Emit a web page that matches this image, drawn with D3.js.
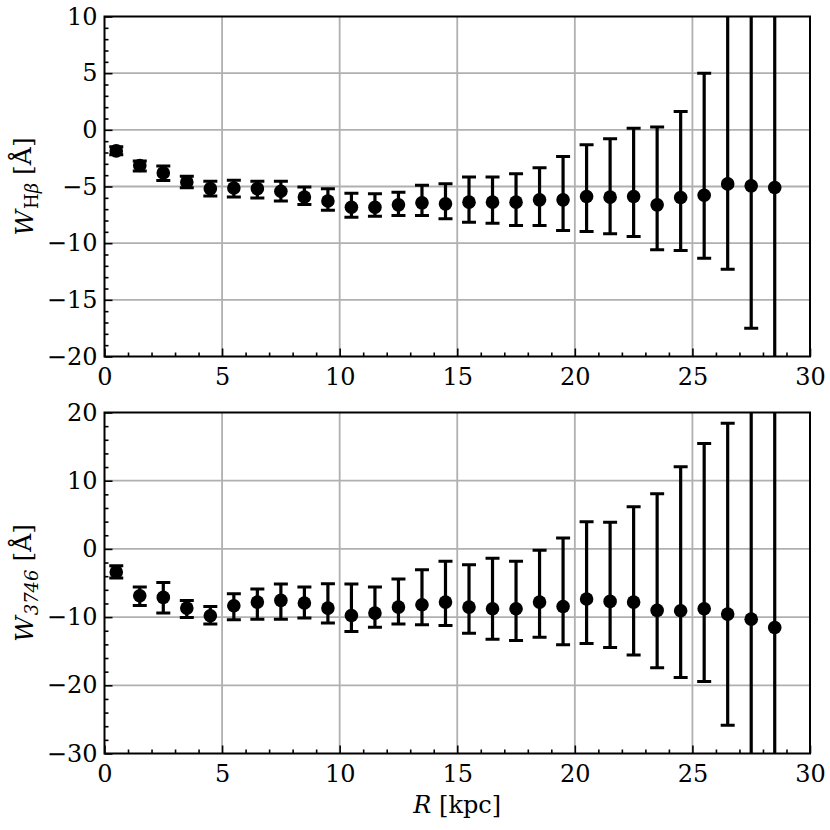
<!DOCTYPE html>
<html>
<head>
<meta charset="utf-8">
<script src="https://cdn.jsdelivr.net/npm/d3@7"></script>
<style>
  body { margin: 0; background: #fff; }
</style>
</head>
<body>
<svg id="chart" width="830" height="830"></svg>
<script>
// radius bins [kpc]
var radius = [0.5, 1.5, 2.5, 3.5, 4.5, 5.5, 6.5, 7.5, 8.5, 9.5, 10.5, 11.5, 12.5, 13.5, 14.5,
  15.5, 16.5, 17.5, 18.5, 19.5, 20.5, 21.5, 22.5, 23.5, 24.5, 25.5, 26.5, 27.5, 28.5];

// W_Hbeta [A]: value, upper and lower end of the error bar
var hbValue = [-1.86, -3.15, -3.8, -4.6, -5.19, -5.13, -5.19, -5.42, -5.93, -6.28, -6.83, -6.83, -6.62, -6.44, -6.53,
  -6.38, -6.38, -6.38, -6.18, -6.18, -5.88, -5.94, -5.88, -6.62, -5.97, -5.77, -4.77, -4.94, -5.09];
var hbUpper = [-1.5, -2.74, -3.19, -4.1, -4.54, -4.45, -4.54, -4.54, -5.04, -5.19, -5.59, -5.65, -5.5, -4.89, -4.76,
  -4.17, -4.17, -3.88, -3.35, -2.35, -1.32, -0.79, 0.15, 0.24, 1.62, 5.0, 13, 12, 16];
var hbLower = [-2.2, -3.63, -4.48, -5.1, -5.84, -5.93, -6.02, -6.28, -6.58, -7.1, -7.71, -7.62, -7.56, -7.56, -7.85,
  -8.15, -8.24, -8.44, -8.44, -8.88, -8.97, -9.18, -9.41, -10.59, -10.65, -11.33, -12.3, -17.5, -26];

// W_3746 [A]
var w37Value = [-3.39, -6.87, -7.11, -8.68, -9.81, -8.34, -7.8, -7.55, -7.94, -8.68, -9.76, -9.41, -8.53, -8.19, -7.8,
  -8.53, -8.78, -8.78, -7.8, -8.44, -7.35, -7.7, -7.8, -9.02, -9.07, -8.78, -9.56, -10.3, -11.52];
var w37Upper = [-2.46, -5.59, -4.91, -7.55, -8.43, -6.57, -5.88, -5.15, -5.59, -5.12, -5.15, -5.59, -4.41, -3.04, -1.82,
  -2.31, -1.38, -1.82, -0.2, 1.61, 3.97, 3.92, 6.17, 8.08, 12.06, 15.44, 18.43, 25, 30];
var w37Lower = [-4.27, -8.29, -9.41, -10.05, -11.03, -10.4, -10.3, -10.3, -10.15, -10.85, -12.11, -11.47, -11.03, -11.13, -11.23,
  -12.35, -13.24, -13.44, -12.94, -14.07, -13.88, -14.47, -15.55, -17.41, -18.87, -19.46, -25.84, -35, -40];

var xTicks = [0, 5, 10, 15, 20, 25, 30];
var hbTicks = [-20, -15, -10, -5, 0, 5, 10];
var w37Ticks = [-30, -20, -10, 0, 10, 20];
var minorHb = [-19, -18, -17, -16, -14, -13, -12, -11, -9, -8, -7, -6, -4, -3, -2, -1, 1, 2, 3, 4, 6, 7, 8, 9];
var minorW37 = [-28, -26, -24, -22, -18, -16, -14, -12, -8, -6, -4, -2, 2, 4, 6, 8, 12, 14, 16, 18];

var PLOT_LEFT = 104.5;
var PLOT_RIGHT = 810;
var MAJOR_TICK = 8;
var MINOR_TICK = 4;
var FONT_SIZE = 24;
var FONT = "DejaVu Serif";

var svg = d3.select("#chart");

var x = d3.scaleLinear().domain([0, 30]).range([PLOT_LEFT, PLOT_RIGHT]);

function fmt(d) {
  return d < 0 ? "\u2212" + Math.abs(d) : String(d);
}

function drawPanel(opts) {
  var y = d3.scaleLinear().domain(opts.domain).range([opts.bottom, opts.top]);
  var g = svg.append("g");
  var w = PLOT_RIGHT - PLOT_LEFT;
  var h = opts.bottom - opts.top;

  g.append("clipPath").attr("id", opts.id + "-clip")
    .append("rect")
    .attr("x", PLOT_LEFT).attr("y", opts.top)
    .attr("width", w).attr("height", h);

  // grid
  g.append("g").selectAll("line.gx").data(xTicks.slice(1, -1)).enter().append("line")
    .attr("x1", function (d) { return x(d); })
    .attr("x2", function (d) { return x(d); })
    .attr("y1", opts.top).attr("y2", opts.bottom)
    .style("stroke", "#b0b0b0").style("stroke-width", 1.8);
  g.append("g").selectAll("line.gy").data(opts.ticks.slice(1, -1)).enter().append("line")
    .attr("y1", function (d) { return y(d); })
    .attr("y2", function (d) { return y(d); })
    .attr("x1", PLOT_LEFT).attr("x2", PLOT_RIGHT)
    .style("stroke", "#b0b0b0").style("stroke-width", 1.8);

  // error bars and points
  var marks = g.append("g").attr("clip-path", "url(#" + opts.id + "-clip)");
  var pts = radius.map(function (r, i) {
    return { r: r, v: opts.value[i], hi: opts.upper[i], lo: opts.lower[i] };
  });
  var bars = marks.selectAll("g.bar").data(pts).enter().append("g");
  bars.append("line")
    .attr("x1", function (d) { return x(d.r); })
    .attr("x2", function (d) { return x(d.r); })
    .attr("y1", function (d) { return y(d.hi); })
    .attr("y2", function (d) { return y(d.lo); })
    .style("stroke", "black").style("stroke-width", 3.2);
  ["hi", "lo"].forEach(function (k) {
    bars.append("line")
      .attr("x1", function (d) { return x(d.r) - 7; })
      .attr("x2", function (d) { return x(d.r) + 7; })
      .attr("y1", function (d) { return y(d[k]); })
      .attr("y2", function (d) { return y(d[k]); })
      .style("stroke", "black").style("stroke-width", 3);
  });
  bars.append("circle")
    .attr("cx", function (d) { return x(d.r); })
    .attr("cy", function (d) { return y(d.v); })
    .attr("r", 6.8)
    .style("fill", "black");

  // axes, ticks pointing inward
  var xAxis = g.append("g").attr("transform", "translate(0," + opts.bottom + ")")
    .call(d3.axisBottom(x).tickValues(xTicks).tickFormat(fmt)
      .tickSizeInner(-MAJOR_TICK).tickSizeOuter(0).tickPadding(11));
  g.append("g").attr("transform", "translate(0," + opts.bottom + ")")
    .call(d3.axisBottom(x).tickValues(d3.range(1, 30).filter(function (d) { return d % 5 !== 0; }))
      .tickFormat("").tickSizeInner(-MINOR_TICK).tickSizeOuter(0));
  g.append("g").attr("transform", "translate(" + PLOT_LEFT + ",0)")
    .call(d3.axisLeft(y).tickValues(opts.ticks).tickFormat(fmt)
      .tickSizeInner(-MAJOR_TICK).tickSizeOuter(0).tickPadding(7));
  g.append("g").attr("transform", "translate(" + PLOT_LEFT + ",0)")
    .call(d3.axisLeft(y).tickValues(opts.minor)
      .tickFormat("").tickSizeInner(-MINOR_TICK).tickSizeOuter(0));

  g.selectAll(".domain").remove();
  g.selectAll("g").attr("font-family", null);
  g.selectAll(".tick line").style("stroke", "black").style("stroke-width", 1.6);
  g.selectAll(".tick text")
    .style("font-family", FONT)
    .style("font-size", FONT_SIZE + "px")
    .style("fill", "black");
  xAxis.selectAll(".tick text").attr("dy", "0.72em");

  // frame
  g.append("rect")
    .attr("x", PLOT_LEFT).attr("y", opts.top)
    .attr("width", w).attr("height", h)
    .style("fill", "none").style("stroke", "black").style("stroke-width", 2);

  // y label
  var lab = g.append("text")
    .attr("transform", "translate(33," + (opts.top + h / 2) + ") rotate(-90)")
    .attr("text-anchor", "middle")
    .style("font-family", FONT)
    .style("font-size", "25px");
  lab.append("tspan").style("font-style", "italic").text("W");
  opts.sub(lab);
  lab.append("tspan").attr("dy", "-0.3em").text(" [\u00c5]");
}

drawPanel({
  id: "hb", top: 16.5, bottom: 356.5, domain: [-20, 10], ticks: hbTicks, minor: minorHb,
  value: hbValue, upper: hbUpper, lower: hbLower,
  sub: function (lab) {
    lab.append("tspan").attr("dy", "0.3em").attr("dx", "1").style("font-size", "18px").text("H");
    lab.append("tspan").style("font-size", "18px").style("font-style", "italic").text("\u03b2");
  }
});

drawPanel({
  id: "w37", top: 412.5, bottom: 753.5, domain: [-30, 20], ticks: w37Ticks, minor: minorW37,
  value: w37Value, upper: w37Upper, lower: w37Lower,
  sub: function (lab) {
    lab.append("tspan").attr("dy", "0.3em").attr("dx", "1").style("font-size", "18px")
      .style("font-style", "italic").text("3746");
  }
});

// x label
var xl = svg.append("text")
  .attr("x", (PLOT_LEFT + PLOT_RIGHT) / 2)
  .attr("y", 813)
  .attr("text-anchor", "middle")
  .style("font-family", FONT)
  .style("font-size", "24px");
xl.append("tspan").style("font-style", "italic").text("R");
xl.append("tspan").text(" [kpc]");
</script>
</body>
</html>
